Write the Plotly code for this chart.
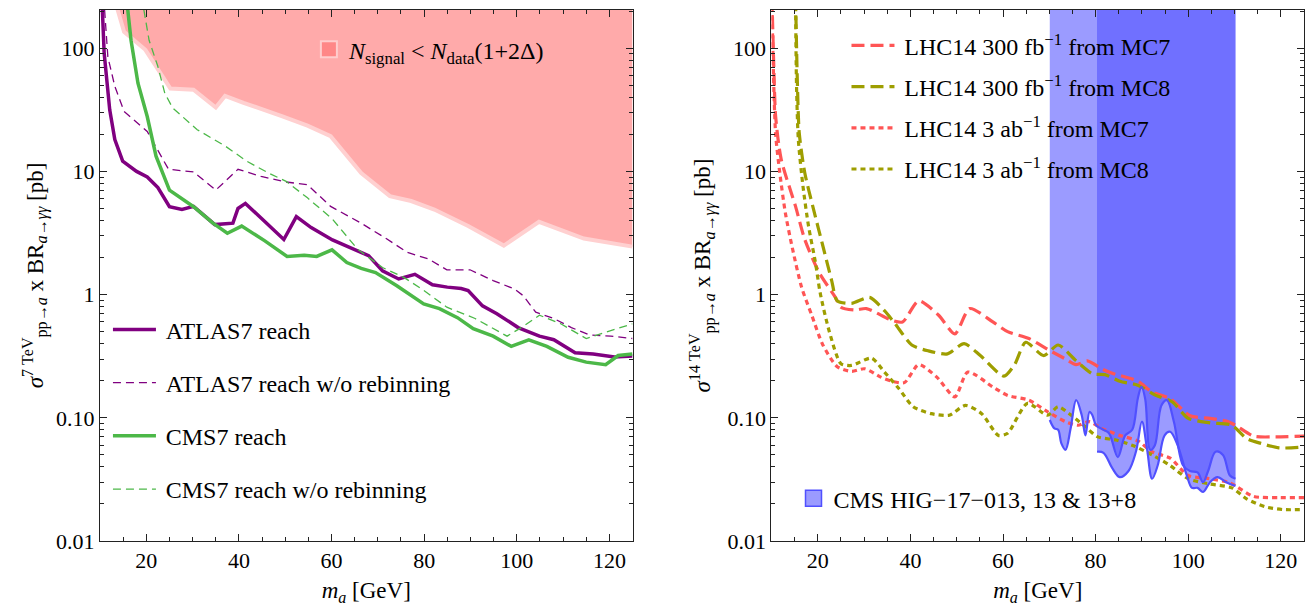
import plotly.graph_objects as go

FONT = "Liberation Serif"

# ---------------- left panel data (7 TeV) ----------------
pink_m = [13.0, 15.2, 19.8, 25.2, 30.2, 35.0, 37.0, 41.0, 49.4, 54.8, 59.8, 66.4, 72.6, 77.2, 82.2, 89.5, 97.2, 104.8, 114.5, 125.0]
pink_v = [260, 136, 97, 47, 46, 33, 41, 36, 28, 23.5, 19.3, 9.7, 6.3, 5.75, 4.9, 3.6, 2.5, 3.9, 2.85, 2.45]

atlas_m = [10.4, 10.9, 12.1, 13.2, 14.9, 17.9, 20.2, 22.5, 25.0, 27.7, 30.2, 34.8, 38.7, 39.8, 41.4, 44.8, 49.7, 52.4, 55.6, 60.2, 64.9, 68.0, 71.0, 74.5, 78.0, 81.8, 85.0, 88.0, 89.5, 92.6, 95.7, 100.3, 104.9, 108.0, 112.6, 116.5, 121.1, 125.0]
atlas_v = [260, 91, 31.6, 18.1, 12.1, 10.0, 9.0, 7.4, 5.17, 4.9, 5.2, 3.7, 3.8, 5.0, 5.5, 4.2, 2.8, 4.3, 3.5, 2.78, 2.34, 2.07, 1.56, 1.34, 1.46, 1.2, 1.15, 1.12, 1.08, 0.81, 0.70, 0.54, 0.46, 0.43, 0.337, 0.329, 0.311, 0.317]

atlas_nr_m = [10.8, 11.7, 13.2, 15.2, 20.2, 24.8, 30.2, 35.0, 39.8, 44.8, 50.2, 54.8, 59.8, 66.4, 71.8, 76.4, 81.0, 84.9, 89.9, 94.9, 99.5, 101.4, 104.1, 108.0, 111.8, 115.7, 120.3, 125.0]
atlas_nr_v = [260, 85, 49, 30.7, 21.1, 10.4, 9.9, 7.05, 10.4, 9.1, 8.2, 7.8, 5.2, 3.8, 2.85, 2.2, 1.94, 1.59, 1.59, 1.30, 1.11, 0.98, 0.72, 0.64, 0.54, 0.47, 0.46, 0.44]

cms_m = [15.7, 16.7, 18.2, 20.2, 22.1, 25.0, 30.2, 34.4, 37.5, 40.6, 45.6, 50.4, 54.1, 56.8, 60.1, 63.3, 66.4, 69.5, 74.1, 78.0, 79.9, 83.3, 87.2, 90.6, 94.9, 98.8, 102.6, 106.5, 111.1, 115.0, 119.2, 121.9, 125.0]
cms_v = [260, 116, 52, 27.9, 13.3, 7.05, 5.17, 3.8, 3.15, 3.6, 2.73, 2.04, 2.09, 2.04, 2.31, 1.82, 1.63, 1.51, 1.18, 0.93, 0.84, 0.77, 0.65, 0.53, 0.46, 0.38, 0.43, 0.38, 0.31, 0.283, 0.27, 0.32, 0.33]

cms_nr_m = [19.0, 20.6, 22.5, 24.0, 25.7, 31.0, 37.1, 41.7, 46.4, 50.2, 54.8, 60.2, 65.6, 71.0, 75.6, 79.5, 84.9, 91.0, 97.9, 101.0, 104.9, 109.5, 115.0, 119.6, 125.0]
cms_nr_v = [260, 116, 71, 43, 32.7, 21.8, 16, 12.1, 9.7, 8.3, 6.1, 4.1, 2.34, 1.66, 1.38, 1.11, 0.79, 0.64, 0.46, 0.54, 0.68, 0.58, 0.44, 0.50, 0.58]

# ---------------- right panel data (14 TeV) ----------------
mc7_300_m = [10.1, 10.5, 10.9, 12.1, 15.2, 17.2, 20.3, 23.8, 25.0, 28.1, 30.5, 35.9, 38.3, 41.8, 46.1, 49.6, 52.8, 57.8, 61.0, 65.6, 69.6, 73.5, 75.8, 78.2, 81.3, 83.6, 89.1, 92.2, 96.1, 100.4, 104.7, 108.2, 110.2, 114.1, 118.8, 125.0]
mc7_300_v = [260, 71, 28, 12.5, 5.2, 2.8, 1.51, 0.95, 0.79, 0.75, 0.77, 0.62, 0.60, 0.89, 0.68, 0.48, 0.77, 0.60, 0.50, 0.44, 0.36, 0.30, 0.27, 0.29, 0.25, 0.23, 0.198, 0.162, 0.143, 0.104, 0.099, 0.094, 0.087, 0.071, 0.070, 0.071]

mc8_300_m = [15.2, 15.6, 16.0, 17.2, 19.1, 21.2, 23.0, 24.2, 27.3, 31.2, 34.4, 36.7, 40.3, 43.8, 48.0, 51.6, 55.1, 60.2, 62.5, 64.9, 68.8, 71.9, 75.8, 79.3, 82.0, 85.2, 89.1, 93.0, 96.5, 100.0, 104.7, 109.4, 112.6, 115.7, 119.6, 125.0]
mc8_300_v = [260, 52, 20.5, 9.7, 4.9, 2.4, 1.3, 0.89, 0.85, 0.95, 0.74, 0.58, 0.39, 0.35, 0.33, 0.40, 0.32, 0.218, 0.27, 0.41, 0.32, 0.39, 0.29, 0.228, 0.224, 0.198, 0.184, 0.152, 0.135, 0.099, 0.091, 0.087, 0.068, 0.062, 0.057, 0.058]

mc7_3_m = [10.1, 10.3, 10.9, 11.8, 13.0, 14.5, 16.5, 18.7, 21.1, 24.2, 27.3, 30.1, 33.6, 36.0, 38.7, 41.8, 45.7, 49.6, 52.4, 57.8, 61.0, 65.6, 69.6, 73.5, 76.2, 78.6, 81.3, 85.2, 89.1, 92.2, 96.1, 100.0, 104.7, 108.6, 110.2, 114.1, 119.6, 125.0]
mc7_3_v = [260, 97, 20, 9.7, 4.6, 2.4, 1.15, 0.68, 0.39, 0.26, 0.238, 0.25, 0.214, 0.198, 0.193, 0.27, 0.214, 0.148, 0.235, 0.178, 0.152, 0.139, 0.112, 0.093, 0.087, 0.093, 0.082, 0.072, 0.065, 0.053, 0.047, 0.034, 0.032, 0.030, 0.028, 0.023, 0.0225, 0.0225]

mc8_3_m = [15.2, 15.4, 15.8, 16.8, 18.0, 19.5, 20.5, 22.5, 25.0, 27.3, 31.6, 34.4, 37.5, 40.6, 44.5, 48.4, 51.9, 55.4, 59.0, 61.0, 65.3, 69.6, 71.9, 74.3, 77.4, 80.5, 84.4, 88.3, 92.2, 96.1, 100.0, 104.7, 109.4, 112.6, 116.5, 120.4, 125.0]
mc8_3_v = [260, 52, 18.1, 7.6, 3.6, 1.82, 1.04, 0.5, 0.275, 0.266, 0.305, 0.235, 0.173, 0.123, 0.108, 0.105, 0.126, 0.108, 0.072, 0.075, 0.131, 0.105, 0.123, 0.108, 0.087, 0.070, 0.066, 0.059, 0.050, 0.041, 0.032, 0.029, 0.027, 0.022, 0.019, 0.018, 0.018]

cms13_m = [70.1, 71.1, 71.9, 72.6, 73.5, 74.6, 75.8, 77.0, 77.8, 78.7, 79.3, 80.1, 81.7, 82.9, 84.8, 86.4, 87.9, 89.1, 89.9, 90.7, 91.8, 92.8, 94.2, 95.4, 96.9, 98.9, 100.4, 102.0, 103.2, 104.3, 105.9, 107.5, 109.0, 110.2]
cms13_v = [0.096, 0.082, 0.080, 0.062, 0.055, 0.082, 0.139, 0.105, 0.072, 0.112, 0.105, 0.087, 0.080, 0.075, 0.048, 0.072, 0.080, 0.143, 0.178, 0.143, 0.055, 0.060, 0.126, 0.139, 0.093, 0.041, 0.037, 0.036, 0.030, 0.037, 0.053, 0.050, 0.034, 0.032]

cms138_m = [80.3, 81.7, 83.6, 85.2, 87.1, 88.7, 90.0, 91.1, 92.2, 93.4, 94.9, 96.1, 97.7, 99.7, 100.8, 102.0, 103.2, 104.7, 106.3, 108.2, 110.2]
cms138_v = [0.053, 0.052, 0.039, 0.033, 0.037, 0.053, 0.093, 0.056, 0.032, 0.041, 0.072, 0.077, 0.060, 0.034, 0.027, 0.027, 0.025, 0.030, 0.033, 0.030, 0.028]

TOP = 1000.0  # fill limit above the visible range

x_ticks = [20, 40, 60, 80, 100, 120]
y_ticks = [0.01, 0.1, 1, 10, 100]
y_ticktext = ["0.01", "0.10", "1", "10", "100"]
y_minor = [k * 10 ** e for e in range(-2, 3) for k in range(2, 10)]

PURPLE = "#800080"
GREEN = "#4CB848"
RED = "#FF5555"
OLIVE = "#9E9E00"
BLUE = "#5050FF"
BLUE_FILL = "rgba(80,80,255,0.57)"
SP = "\u2009"  # small gap between legend symbol and text

fig = go.Figure()

# ---- left panel ----
fig.add_trace(go.Scatter(x=pink_m + [pink_m[-1], pink_m[0]], y=pink_v + [TOP, TOP],
                         fill="toself", fillcolor="rgb(255,170,170)", mode="lines",
                         line=dict(width=0), showlegend=False, hoverinfo="skip"))
fig.add_trace(go.Scatter(x=pink_m, y=pink_v, mode="lines",
                         line=dict(color="rgb(255,208,208)", width=4), showlegend=False))
fig.add_trace(go.Scatter(x=[None], y=[None], mode="markers", legend="legend2",
                         marker=dict(symbol="square", size=16, color="rgb(255,135,135)",
                                     line=dict(color="rgb(255,205,205)", width=2)),
                         name="<i>N</i><sub>signal</sub> &lt; <i>N</i><sub>data</sub>(1+2Δ)"))

fig.add_trace(go.Scatter(x=atlas_m, y=atlas_v, mode="lines", name=SP + "ATLAS7 reach",
                         legendgroup="a1", line=dict(color=PURPLE, width=3.5)))
fig.add_trace(go.Scatter(x=atlas_nr_m, y=atlas_nr_v, mode="lines", name=SP + "ATLAS7 reach w/o rebinning",
                         legendgroup="a2", line=dict(color=PURPLE, width=1.3, dash="8px,5px")))
fig.add_trace(go.Scatter(x=cms_m, y=cms_v, mode="lines", name=SP + "CMS7 reach",
                         legendgroup="a3", line=dict(color=GREEN, width=3.5)))
fig.add_trace(go.Scatter(x=cms_nr_m, y=cms_nr_v, mode="lines", name=SP + "CMS7 reach w/o rebinning",
                         legendgroup="a4", line=dict(color=GREEN, width=1.3, dash="8px,5px")))

# ---- right panel ----
for cm, cv in [(cms13_m, cms13_v), (cms138_m, cms138_v)]:
    fig.add_trace(go.Scatter(x=[cm[0], cm[-1]], y=[TOP, TOP], mode="lines", line=dict(width=0),
                             showlegend=False, hoverinfo="skip", xaxis="x2", yaxis="y2"))
    fig.add_trace(go.Scatter(x=cm, y=cv, mode="lines", fill="tonexty", fillcolor=BLUE_FILL,
                             line=dict(width=0, shape="spline"), showlegend=False,
                             xaxis="x2", yaxis="y2"))

spec = [
    (mc7_300_m, mc7_300_v, RED, "13px,6px", "LHC14 300 fb<sup>−1</sup> from MC7"),
    (mc8_300_m, mc8_300_v, OLIVE, "13px,6px", "LHC14 300 fb<sup>−1</sup> from MC8"),
    (mc7_3_m, mc7_3_v, RED, "5px,4px", "LHC14 3 ab<sup>−1</sup> from MC7"),
    (mc8_3_m, mc8_3_v, OLIVE, "5px,4px", "LHC14 3 ab<sup>−1</sup> from MC8"),
]
for i, (m, v, c, d, nm) in enumerate(spec):
    fig.add_trace(go.Scatter(x=m, y=v, mode="lines", name=SP + nm, legend="legend3",
                             legendgroup="b%d" % i,
                             line=dict(color=c, width=3.2, dash=d, shape="spline", smoothing=0.7),
                             xaxis="x2", yaxis="y2"))

for cm, cv in [(cms13_m, cms13_v), (cms138_m, cms138_v)]:
    fig.add_trace(go.Scatter(x=cm, y=cv, mode="lines", line=dict(color=BLUE, width=2.2, shape="spline"),
                             showlegend=False, xaxis="x2", yaxis="y2"))

fig.add_trace(go.Scatter(x=[None], y=[None], mode="markers", legend="legend4",
                         marker=dict(symbol="square", size=16, color="rgb(155,155,255)",
                                     line=dict(color=BLUE, width=1.5)),
                         name="CMS HIG−17−013, 13 &amp; 13+8", xaxis="x2", yaxis="y2"))

AX = dict(showline=True, linecolor="#222", linewidth=1, mirror="allticks", ticks="inside",
          ticklen=7, tickwidth=1, tickcolor="#222", showgrid=False, zeroline=False,
          tickfont=dict(family=FONT, size=22, color="black"))

xt = dict(AX, range=[10, 125], tickmode="array", tickvals=x_ticks,
          ticktext=[str(t) for t in x_ticks],
          minor=dict(ticks="inside", ticklen=4, dtick=5, tick0=0, tickcolor="#222", showgrid=False),
          title=dict(text="<i>m<sub>a</sub></i> [GeV]", standoff=14,
                     font=dict(family=FONT, size=23, color="black")))
yt = dict(AX, type="log", range=[-2, 2.31], tickmode="array", tickvals=y_ticks, ticktext=y_ticktext,
          minor=dict(ticks="inside", ticklen=4, tickmode="array", tickvals=y_minor,
                     tickcolor="#222", showgrid=False))

fig.update_layout(
    width=1307, height=606,
    margin=dict(l=100, r=2, t=10, b=63),
    paper_bgcolor="white", plot_bgcolor="white",
    font=dict(family=FONT, size=22, color="black"),
    xaxis=dict(xt, domain=[0, 0.4423], anchor="y"),
    yaxis=dict(yt, anchor="x", title=dict(
        text="<i>σ</i><sup>7 TeV</sup><sub>pp→<i>a</i></sub> x BR<sub><i>a</i>→<i>γγ</i></sub> [pb]",
        standoff=6, font=dict(family=FONT, size=23, color="black"))),
    xaxis2=dict(xt, domain=[0.5577, 1.0], anchor="y2"),
    yaxis2=dict(yt, anchor="x2", title=dict(
        text="<i>σ</i><sup>14 TeV</sup><sub>pp→<i>a</i></sub> x BR<sub><i>a</i>→<i>γγ</i></sub> [pb]",
        standoff=10, font=dict(family=FONT, size=23, color="black"))),
    legend=dict(x=0.0066, y=0.44, xanchor="left", yanchor="top", bgcolor="rgba(0,0,0,0)",
                font=dict(family=FONT, size=24), tracegroupgap=19, itemwidth=43,
                traceorder="grouped"),
    legend2=dict(x=0.1735, y=0.9675, xanchor="left", yanchor="top", bgcolor="rgba(0,0,0,0)",
                 font=dict(family=FONT, size=24)),
    legend3=dict(x=0.62, y=0.975, xanchor="left", yanchor="top", bgcolor="rgba(0,0,0,0)",
                 font=dict(family=FONT, size=24), tracegroupgap=7, itemwidth=43,
                 traceorder="grouped"),
    legend4=dict(x=0.576, y=0.122, xanchor="left", yanchor="top", bgcolor="rgba(0,0,0,0)",
                 font=dict(family=FONT, size=24)),
)

fig.write_html("out.html")
